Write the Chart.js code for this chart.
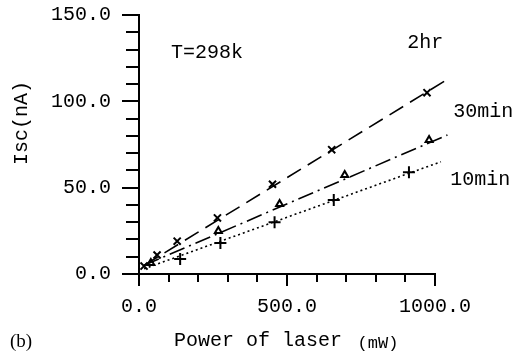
<!DOCTYPE html>
<html>
<head>
<meta charset="utf-8">
<script src="https://cdn.jsdelivr.net/npm/chart.js@4/dist/chart.umd.min.js"></script>
<style>
html, body { margin: 0; padding: 0; background: #fff; }
#wrap { width: 516px; height: 352px; position: relative; }
</style>
</head>
<body>
<div id="wrap"><canvas id="myChart"></canvas></div>
<script>
// measured points (power in mW, Isc in nA)
const power2hr = [17, 61, 129, 265, 451, 651, 973];
const isc2hr = [4.6, 11, 19, 32.5, 52, 72, 105];
const power30min = [40, 268, 475, 695, 980];
const isc30min = [6.4, 24.9, 40.5, 57.3, 77.6];
const power10min = [139, 275, 458, 658, 912];
const isc10min = [8.7, 18, 30, 42.8, 59];

// straight fit lines, start and end
const fit2hrX = [17, 1035];
const fit2hrY = [5, 112];
const fit30minX = [17, 1042];
const fit30minY = [5, 80.5];
const fit10minX = [17, 1020];
const fit10minY = [3, 65];

const xTicks = [0, 500, 1000];
const yTicks = [0, 50, 100, 150];
const xMinor = [0, 100, 200, 300, 400, 500, 600, 700, 800, 900, 1000];
const yMinor = [0, 10, 20, 30, 40, 50, 60, 70, 80, 90, 100, 110, 120, 130, 140, 150];

const notes = [
  { text: 'T=298k', x: 230, y: 128 },
  { text: '2hr', x: 967, y: 134 },
  { text: '30min', x: 1163, y: 94 },
  { text: '10min', x: 1153, y: 54.5 }
];

const mono = '"Liberation Mono", "Courier New", monospace';

function pts(xs, ys) {
  return xs.map((v, i) => ({ x: v, y: ys[i] }));
}

function fitLine(xs, ys, dash) {
  return {
    data: pts(xs, ys),
    showLine: true,
    borderColor: '#000',
    borderWidth: 1.6,
    borderDash: dash,
    pointRadius: 0,
    clip: false
  };
}

function markers(xs, ys, style, r) {
  return {
    data: pts(xs, ys),
    showLine: false,
    pointStyle: style,
    pointRadius: r,
    borderColor: '#000',
    backgroundColor: 'rgba(0,0,0,0)',
    pointBorderWidth: 2,
    clip: false
  };
}

const paperBits = {
  id: 'paperBits',
  afterDraw(chart) {
    const { ctx, chartArea, scales: { x, y } } = chart;
    ctx.save();
    ctx.strokeStyle = '#000';
    ctx.lineWidth = 2;
    ctx.beginPath();
    yMinor.forEach(v => {
      const py = Math.round(y.getPixelForValue(v));
      const len = v % 50 === 0 ? 17 : 13;
      ctx.moveTo(chartArea.left, py);
      ctx.lineTo(chartArea.left - len, py);
    });
    xMinor.forEach(v => {
      const px = Math.round(x.getPixelForValue(v));
      const len = v % 500 === 0 ? 12 : 8;
      ctx.moveTo(px, chartArea.bottom);
      ctx.lineTo(px, chartArea.bottom + len);
    });
    ctx.stroke();

    ctx.fillStyle = '#000';
    ctx.font = '20px ' + mono;
    ctx.textAlign = 'center';
    ctx.textBaseline = 'middle';
    notes.forEach(n => {
      ctx.fillText(n.text, x.getPixelForValue(n.x), y.getPixelForValue(n.y));
    });

    // y axis title
    ctx.save();
    ctx.translate(22, 123);
    ctx.rotate(-Math.PI / 2);
    ctx.fillText('Isc(nA)', 0, 0);
    ctx.restore();

    // x axis title
    ctx.fillText('Power of laser', 258, 341);
    ctx.font = '17px ' + mono;
    ctx.fillText('(mW)', 378, 343);

    ctx.font = '19px "Liberation Serif", "Times New Roman", serif';
    ctx.textAlign = 'left';
    ctx.fillText('(b)', 10, 342);
    ctx.restore();
  }
};

Chart.defaults.font.family = mono;
Chart.defaults.color = '#000';

new Chart(document.getElementById('myChart').getContext('2d'), {
  type: 'scatter',
  data: {
    datasets: [
      fitLine(fit2hrX, fit2hrY, [16, 8]),
      fitLine(fit30minX, fit30minY, [16, 5, 2, 5]),
      fitLine(fit10minX, fit10minY, [2, 3]),
      markers(power2hr, isc2hr, 'crossRot', 5),
      markers(power30min, isc30min, 'triangle', 4),
      markers(power10min, isc10min, 'cross', 6)
    ]
  },
  options: {
    responsive: true,
    maintainAspectRatio: false,
    animation: false,
    devicePixelRatio: 1,
    layout: { padding: { top: 15, right: 81, left: 0, bottom: 0 } },
    plugins: {
      legend: { display: false },
      tooltip: { enabled: false }
    },
    scales: {
      x: {
        type: 'linear',
        min: 0,
        max: 1000,
        afterBuildTicks: s => { s.ticks = xTicks.map(v => ({ value: v })); },
        afterFit: s => { s.height = 78; s.paddingLeft = 0; s.paddingRight = 0; },
        grid: { display: false, drawTicks: false },
        border: { display: true, color: '#000', width: 2 },
        ticks: {
          padding: 21,
          font: { size: 20 },
          callback: v => v.toFixed(1)
        }
      },
      y: {
        type: 'linear',
        min: 0,
        max: 150,
        afterBuildTicks: s => { s.ticks = yTicks.map(v => ({ value: v })); },
        afterFit: s => { s.width = 139; s.paddingTop = 0; s.paddingBottom = 0; },
        grid: { display: false, drawTicks: false },
        border: { display: true, color: '#000', width: 2 },
        ticks: {
          padding: 28,
          font: { size: 20 },
          callback: v => v.toFixed(1)
        }
      }
    }
  },
  plugins: [paperBits]
});
</script>
</body>
</html>
